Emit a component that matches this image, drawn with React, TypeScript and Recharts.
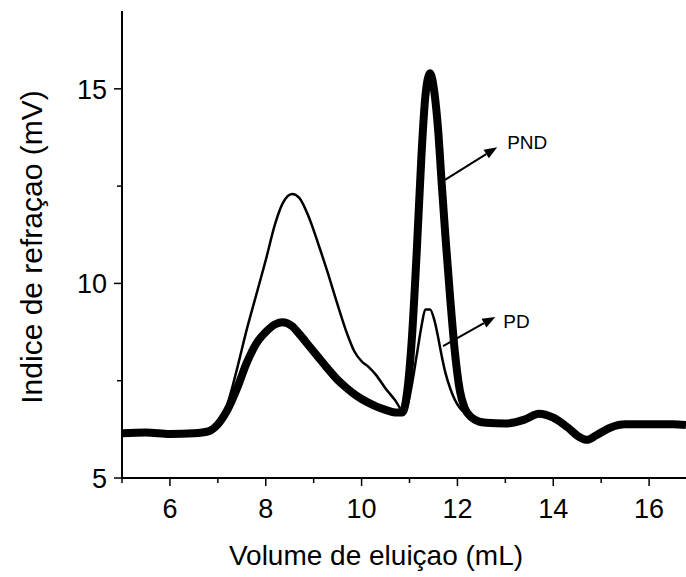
import React from "react";
import { LineChart, Line, XAxis, YAxis, ReferenceLine } from "recharts";

// elution volume (mL)
const volume = [
  5.0, 5.5, 6.0, 6.5, 6.8, 7.0, 7.2, 7.4, 7.6, 7.8, 8.0, 8.2, 8.35, 8.55, 8.7, 8.9, 9.1, 9.3, 9.5,
  9.7, 9.85, 10.0, 10.15, 10.3, 10.5, 10.7, 10.85, 10.95, 11.05, 11.15, 11.25, 11.33, 11.43, 11.52,
  11.6, 11.67, 11.75, 11.85, 11.95, 12.05, 12.15, 12.3, 12.45, 12.6, 13.0, 13.4, 13.7, 14.0, 14.3,
  14.55, 14.7, 14.9, 15.2, 15.5, 16.0, 16.5, 16.77,
];

// thick trace
const pnd = [
  6.15, 6.17, 6.13, 6.15, 6.2, 6.38, 6.75, 7.3, 7.95, 8.45, 8.75, 8.95, 9.0, 8.9, 8.7, 8.4, 8.1, 7.8, 7.52,
  7.3, 7.15, 7.03, 6.93, 6.84, 6.75, 6.68, 6.68, 7.2, 8.6, 10.8, 13.3, 14.8, 15.4, 14.9,
  13.9, 12.6, 11.2, 9.6, 8.2, 7.25, 6.8, 6.55, 6.45, 6.42, 6.4, 6.5, 6.65, 6.55, 6.3,
  6.05, 5.98, 6.1, 6.3, 6.38, 6.38, 6.38, 6.36,
];

// thin trace
const pd = [
  6.15, 6.17, 6.13, 6.15, 6.2, 6.4, 6.9, 7.8, 8.8, 9.7, 10.6, 11.55, 12.05, 12.3, 12.2, 11.7, 11.0, 10.25, 9.45,
  8.7, 8.25, 8.0, 7.85, 7.65, 7.3, 7.0, 6.75, 6.85, 7.4, 8.15, 8.9, 9.33, 9.33, 9.05,
  8.6, 8.15, 7.7, 7.3, 7.0, 6.8, 6.68, 6.55, 6.47, 6.42, 6.4, 6.5, 6.65, 6.55, 6.3,
  6.05, 5.98, 6.1, 6.3, 6.38, 6.38, 6.38, 6.36,
];

const xTicks = [5, 6, 7, 8, 9, 10, 11, 12, 13, 14, 15, 16];
const yTicks = [5, 7.5, 10, 12.5, 15];

// arrow annotations: [start, end] in data units
const pndArrow = [{ x: 11.74, y: 12.66 }, { x: 12.83, y: 13.5 }];
const pdArrow = [{ x: 11.7, y: 8.39 }, { x: 12.79, y: 9.14 }];

const data = volume.map((v, i) => ({ v, pnd: pnd[i], pd: pd[i] }));

const FONT = "'Liberation Sans', Arial, sans-serif";

const XTick = ({ x, y, payload }: any) => {
  const major = payload.value % 2 === 0;
  return (
    <g>
      <line x1={x} x2={x} y1={y} y2={y + (major ? 8 : 5)} stroke="#000" strokeWidth={1.5} />
      {major && (
        <text x={x} y={y + 40} textAnchor="middle" fontSize={27} fontFamily={FONT} fill="#000">
          {payload.value}
        </text>
      )}
    </g>
  );
};

const YTick = ({ x, y, payload }: any) => {
  const major = payload.value % 5 === 0;
  return (
    <g>
      <line x1={x} x2={x - (major ? 8 : 5)} y1={y} y2={y} stroke="#000" strokeWidth={1.5} />
      {major && (
        <text x={x - 15} y={y + 10} textAnchor="end" fontSize={27} fontFamily={FONT} fill="#000">
          {payload.value}
        </text>
      )}
    </g>
  );
};

const arrowShape = (label: string, dx: number, dy: number) => (props: any) => {
  const { x1, y1, x2, y2 } = props;
  const ang = Math.atan2(y2 - y1, x2 - x1);
  const len = 13;
  const w = 5;
  const bx = x2 - len * Math.cos(ang);
  const by = y2 - len * Math.sin(ang);
  const pts = [
    `${x2},${y2}`,
    `${bx + w * Math.sin(ang)},${by - w * Math.cos(ang)}`,
    `${bx - w * Math.sin(ang)},${by + w * Math.cos(ang)}`,
  ].join(" ");
  return (
    <g>
      <line x1={x1} y1={y1} x2={bx} y2={by} stroke="#000" strokeWidth={2} />
      <polygon points={pts} fill="#000" />
      <text x={x2 + dx} y={y2 + dy} fontSize={19} fontFamily={FONT} fill="#000">
        {label}
      </text>
    </g>
  );
};

export default function App() {
  return (
    <div style={{ position: "absolute", left: 0, top: 0, background: "#fff" }}>
      <LineChart width={686} height={577} data={data} margin={{ top: 11, right: 0, left: 0, bottom: 0 }}>
        <XAxis
          dataKey="v"
          type="number"
          domain={[5, 16.77]}
          ticks={xTicks}
          allowDataOverflow
          height={99}
          tickSize={0}
          tickMargin={0}
          tickLine={false}
          tick={<XTick />}
          axisLine={{ stroke: "#000", strokeWidth: 2 }}
          label={{
            content: () => (
              <text x={376} y={565} textAnchor="middle" fontSize={28} fontFamily={FONT} fill="#000">
                Volume de eluiçao (mL)
              </text>
            ),
          }}
        />
        <XAxis
          xAxisId="top"
          orientation="top"
          dataKey="v"
          type="number"
          domain={[5, 16.77]}
          ticks={xTicks}
          allowDataOverflow
          height={0}
          mirror
          tickSize={3}
          tick={false}
          tickLine={{ stroke: "#000" }}
          axisLine={{ stroke: "#000", strokeWidth: 2 }}
        />
        <YAxis
          type="number"
          domain={[5, 17]}
          ticks={yTicks}
          allowDataOverflow
          width={122}
          tickSize={0}
          tickMargin={0}
          tickLine={false}
          tick={<YTick />}
          axisLine={{ stroke: "#000", strokeWidth: 2 }}
          label={{
            content: () => (
              <text
                x={42}
                y={247}
                transform="rotate(-90, 42, 247)"
                textAnchor="middle"
                fontSize={30}
                fontFamily={FONT}
                fill="#000"
              >
                Indice de refraçao (mV)
              </text>
            ),
          }}
        />
        <Line
          dataKey="pd"
          type="monotone"
          stroke="#000"
          strokeWidth={2.5}
          dot={false}
          isAnimationActive={false}
        />
        <Line
          dataKey="pnd"
          type="monotone"
          stroke="#000"
          strokeWidth={8}
          dot={false}
          isAnimationActive={false}
        />
        <ReferenceLine
          segment={pndArrow}
          ifOverflow="visible"
          shape={arrowShape("PND", 10, 2)}
        />
        <ReferenceLine
          segment={pdArrow}
          ifOverflow="visible"
          shape={arrowShape("PD", 8, 11)}
        />
      </LineChart>
    </div>
  );
}
